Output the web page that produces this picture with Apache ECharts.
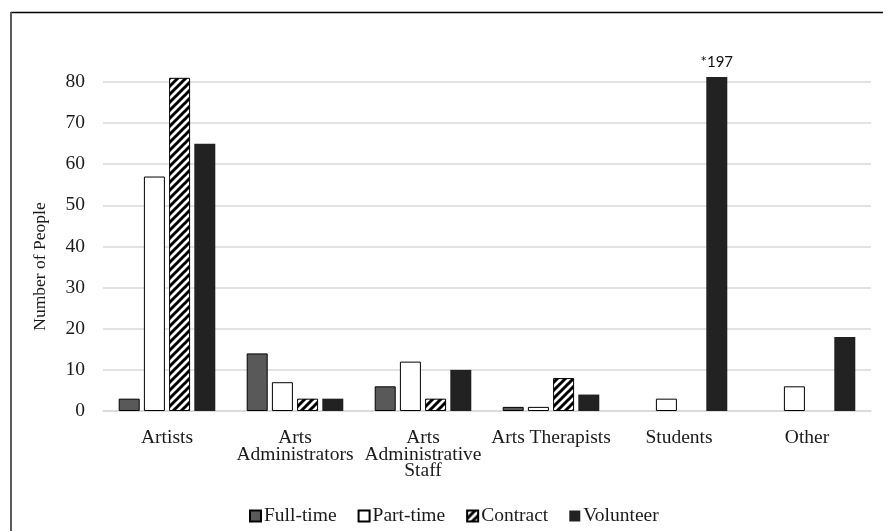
<!DOCTYPE html>
<html>
<head>
<meta charset="utf-8">
<script src="https://cdn.jsdelivr.net/npm/echarts@6/dist/echarts.min.js"></script>
<style>
  html, body { margin: 0; padding: 0; background: #fff; }
  #chart { width: 883px; height: 531px; }
</style>
</head>
<body>
<div id="chart"></div>
<script>
// Staff composition by role and employment type
const categories = ['Artists', 'Arts\nAdministrators', 'Arts\nAdministrative\nStaff', 'Arts Therapists', 'Students', 'Other'];
const fullTime  = [3, 14, 6, 1, null, null];
const partTime  = [57, 7, 12, 1, 3, 6];
const contract  = [81, 3, 3, 8, null, null];
const volunteer = [65, 3, 10, 4, 197, 18];
// values that run past the axis top get an explicit label
const axisTop = 81.2;
const yTicks = { min: 0, interval: 10 };

// diagonal hatch used for the contract series
function hatchPattern() {
  const c = document.createElement('canvas');
  c.width = 8; c.height = 8;
  const g = c.getContext('2d');
  g.fillStyle = '#fff';
  g.fillRect(0, 0, 8, 8);
  g.strokeStyle = '#000';
  g.lineWidth = 3;
  g.beginPath();
  g.moveTo(0, 8); g.lineTo(8, 0);
  g.moveTo(-4, 4); g.lineTo(4, -4);
  g.moveTo(4, 12); g.lineTo(12, 4);
  g.stroke();
  return c;
}

const serif = '"Liberation Serif", "Times New Roman", serif';

function withOverflowLabel(arr) {
  return arr.map(v => {
    if (v != null && v > axisTop) {
      return {
        value: v,
        label: {
          show: true, position: 'top', distance: 7,
          formatter: p => '*' + p.value,
          fontFamily: 'Lato, "Liberation Sans", sans-serif',
          fontSize: 15, color: '#111'
        }
      };
    }
    return v;
  });
}

const barBase = { type: 'bar', barWidth: 21, barGap: '20%' };

const chart = echarts.init(document.getElementById('chart'), null, { renderer: 'canvas' });
chart.setOption({
  animation: false,
  backgroundColor: '#fff',
  grid: { left: 103, right: 12, top: 77, bottom: 120 },
  xAxis: {
    type: 'category',
    data: categories,
    axisLine: { lineStyle: { color: '#d9d9d9', width: 1.5 } },
    axisTick: { show: false },
    axisLabel: {
      interval: 0, margin: 19,
      fontFamily: serif, fontSize: 19.5, lineHeight: 16.5, color: '#1a1a1a'
    }
  },
  yAxis: {
    type: 'value',
    min: yTicks.min, max: axisTop, interval: yTicks.interval,
    name: 'Number of People',
    nameLocation: 'middle',
    nameGap: 54,
    nameTextStyle: { fontFamily: serif, fontSize: 17.5, color: '#1a1a1a', padding: [0, 0, 0, -45] },
    axisLine: { show: false },
    axisTick: { show: false },
    axisLabel: {
      margin: 18, showMaxLabel: false,
      fontFamily: serif, fontSize: 19.5, color: '#1a1a1a'
    },
    splitLine: { show: true, showMaxLine: false, lineStyle: { color: '#d9d9d9', width: 1.5 } }
  },
  legend: {
    left: 249, top: 506, padding: 0,
    itemWidth: 11, itemHeight: 11, itemGap: 21,
    icon: 'rect',
    textStyle: { fontFamily: serif, fontSize: 19.5, color: '#1a1a1a', padding: [0, 0, 0, -2] },
    data: ['Full-time', 'Part-time', 'Contract', 'Volunteer']
  },
  series: [
    Object.assign({}, barBase, {
      name: 'Full-time', data: fullTime,
      itemStyle: { color: '#595959', borderColor: '#000', borderWidth: 1 }
    }),
    Object.assign({}, barBase, {
      name: 'Part-time', data: partTime,
      itemStyle: { color: '#fff', borderColor: '#000', borderWidth: 1 }
    }),
    Object.assign({}, barBase, {
      name: 'Contract', data: contract,
      itemStyle: { color: { image: hatchPattern(), repeat: 'repeat' }, borderColor: '#000', borderWidth: 1 }
    }),
    Object.assign({}, barBase, {
      name: 'Volunteer', data: withOverflowLabel(volunteer),
      clip: true,
      itemStyle: { color: '#222' }
    })
  ],
  graphic: [
    { type: 'line', silent: true, shape: { x1: 11, y1: 12.5, x2: 883, y2: 12.5 }, style: { stroke: '#000', lineWidth: 1.3 } },
    { type: 'line', silent: true, shape: { x1: 11, y1: 12, x2: 11, y2: 531 }, style: { stroke: '#595959', lineWidth: 2 } }
  ]
});
</script>
</body>
</html>
